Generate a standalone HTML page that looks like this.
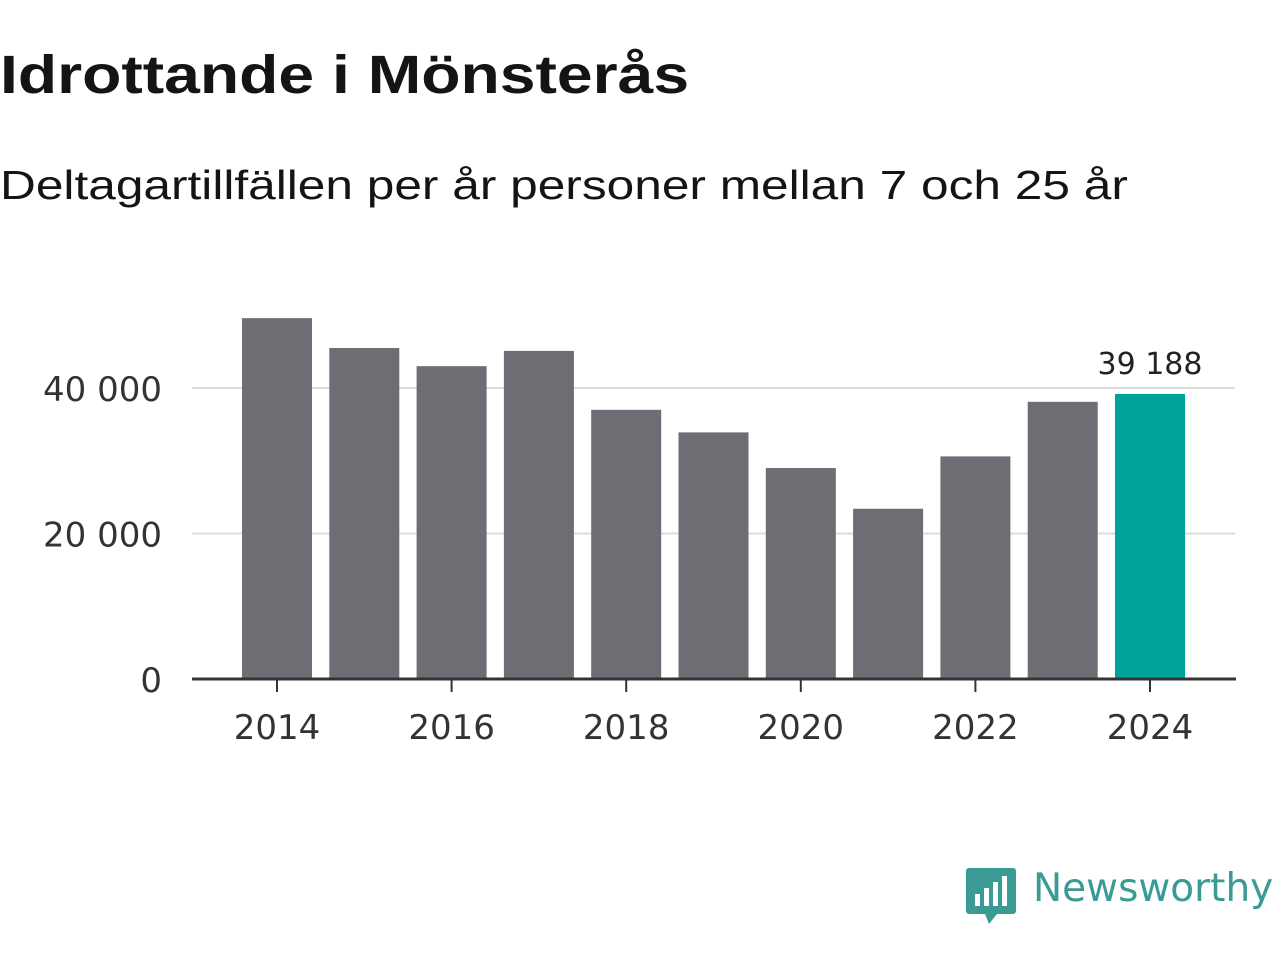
<!DOCTYPE html>
<html><head><meta charset="utf-8"><style>
body{margin:0;width:1280px;height:960px;background:#fff;font-family:"Liberation Sans",sans-serif;overflow:hidden;position:relative}
#title{position:absolute;left:0;top:44px;font-size:54px;font-weight:bold;color:#141414;margin:0;transform-origin:0 0;transform:scaleX(1.19);white-space:nowrap}
#sub{position:absolute;left:0;top:162px;font-size:41px;color:#141414;transform-origin:0 0;transform:scaleX(1.21);white-space:nowrap}
</style></head><body>
<h1 id="title">Idrottande i Mönsterås</h1>
<div id="sub">Deltagartillfällen per år personer mellan 7 och 25 år</div>
<svg id="chart" width="1280" height="960" style="position:absolute;left:0;top:0;font-family:'DejaVu Sans',sans-serif"></svg>
<div style="position:absolute;left:965px;top:866px;height:60px">
<svg width="52" height="60" style="position:absolute;left:0;top:0"><path d="M4 2h44a3 3 0 0 1 3 3v40a3 3 0 0 1-3 3H32l-8 10l-4-10H4a3 3 0 0 1-3-3V5a3 3 0 0 1 3-3z" fill="#3a9b94"/><rect x="10" y="28" width="5" height="12" fill="#fff"/><rect x="19" y="22" width="5" height="18" fill="#fff"/><rect x="28" y="16" width="5" height="24" fill="#fff"/><rect x="37" y="10" width="5" height="30" fill="#fff"/></svg>
<span style="position:absolute;left:68px;top:0;font-size:39px;color:#3a9b94;white-space:nowrap;font-family:'DejaVu Sans',sans-serif">Newsworthy</span></div>
<script>
const years=[2014,2015,2016,2017,2018,2019,2020,2021,2022,2023,2024];
const values=[49600,45500,43000,45100,37000,33900,29000,23400,30600,38100,39188];
const yTicks=[0,20000,40000];
const xTickYears=[2014,2016,2018,2020,2022,2024];
const lastLabel="39 188";
const svg=document.getElementById('chart');const NS="http://www.w3.org/2000/svg";
const y=v=>679-v*(291/40000);const x=yr=>277+(yr-2014)*87.3;
function el(t,a){const e=document.createElementNS(NS,t);for(const k in a)e.setAttribute(k,a[k]);svg.appendChild(e);return e;}
const fmt=v=>v===0?"0":String(v).replace(/\B(?=(\d{3})+(?!\d))/g," ");
yTicks.forEach(t=>{if(t>0){const g=el('line',{x1:192,x2:1235,y1:y(t),y2:y(t),stroke:'#dcdcdc','stroke-width':2});}
const l=el('text',{x:162,y:y(t)+13,'text-anchor':'end','font-size':34,fill:'#333'});l.textContent=fmt(t);});
years.forEach((yr,i)=>{const r=el('rect',{x:x(yr)-35,y:y(values[i]),width:70,height:679-y(values[i]),fill:i===years.length-1?'#00a39a':'#6e6d73'});});
const ax=el('line',{x1:192,x2:1236,y1:679,y2:679,stroke:'#333','stroke-width':3});
xTickYears.forEach(yr=>{const tk=el('line',{x1:x(yr),x2:x(yr),y1:679,y2:692,stroke:'#333','stroke-width':2});
const l=el('text',{x:x(yr),y:739,'text-anchor':'middle','font-size':34,fill:'#333'});l.textContent=yr;});
const vl=el('text',{x:x(2024),y:y(values[values.length-1])-20,'text-anchor':'middle','font-size':30,fill:'#222'});vl.textContent=lastLabel;
</script></body></html>
